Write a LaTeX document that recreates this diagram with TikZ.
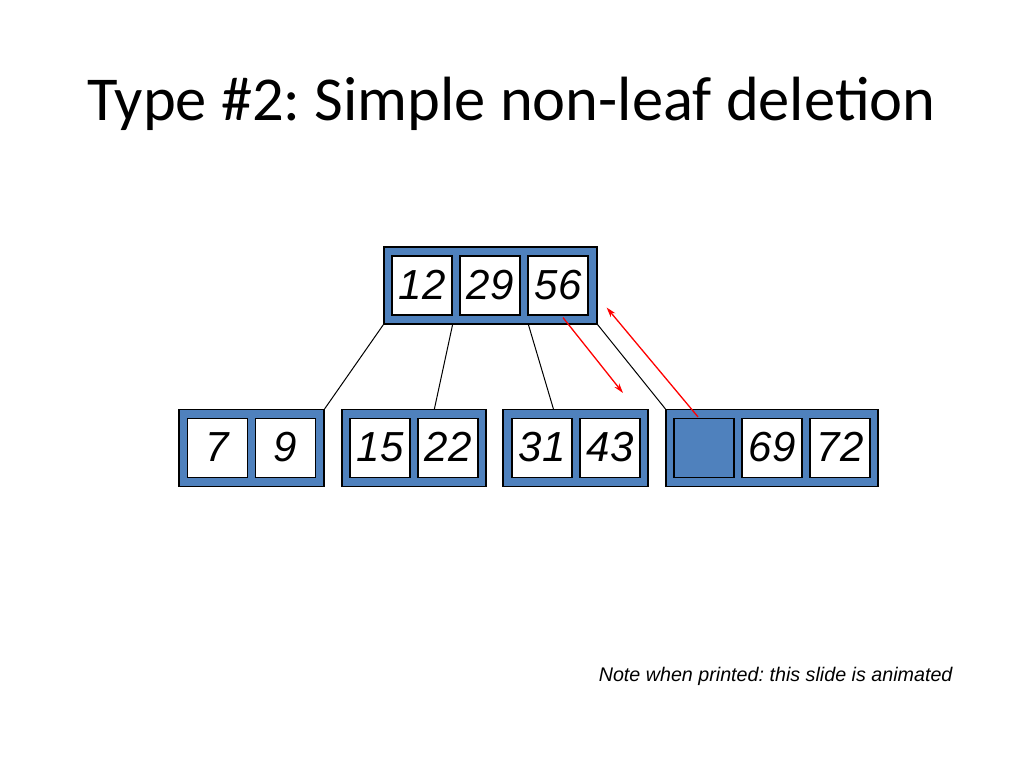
\documentclass[tikz,border=0pt]{standalone}
\usepackage{fontspec}
\setmainfont{Liberation Sans}
\newfontfamily\titlefont{Carlito}
\usepackage{xcolor}
\usetikzlibrary{calc,arrows.meta}
\definecolor{nodeblue}{HTML}{4F81BD}
\frenchspacing

\tikzset{
  outerbox/.style={draw=black, fill=nodeblue, line width=1.2pt, minimum height=77pt, inner sep=0pt},
  keybox/.style={draw=black, fill=white, line width=1.2pt, minimum width=60pt, minimum height=59pt,
    inner sep=0pt, text height=27pt, text depth=0pt, font=\fontsize{42}{42}\selectfont\itshape},
  emptybox/.style={keybox, fill=nodeblue},
  link/.style={draw=black, line width=1pt},
  move/.style={draw=red, line width=1.3pt, -{Stealth[length=10pt,width=6pt]}}
}

\begin{document}
\begin{tikzpicture}[x=1pt,y=-1pt]
\useasboundingbox[fill=white] (0,0) rectangle (1024,768);

\node[font=\titlefont\fontsize{62.5}{62.5}\selectfont, anchor=base] (title) at (511.5,120) {Type \#2: Simple non-leaf deletion};

% root
\node[outerbox, minimum width=213pt] (root) at (490.5,285.5) {};
\foreach \v/\x in {12/422,29/490,56/558}{
	\node[keybox] (k\v) at (\x,285.5) {\v};
}

% leaves
\node[outerbox, minimum width=145pt] (leafA) at (251.5,448) {};
\node[outerbox, minimum width=144pt] (leafB) at (414,448) {};
\node[outerbox, minimum width=145pt] (leafC) at (575.5,448) {};
\node[outerbox, minimum width=212pt] (leafD) at (772,448) {};

\foreach \v/\x in {7/217.5,9/285.5,15/380,22/448,31/542,43/610,69/772,72/840}{
	\node[keybox] (k\v) at (\x,448) {\v};
}
\node[emptybox] (hole) at (704,448) {};

% child pointers
\draw[link] (root.south west) -- (leafA.north east);
\draw[link] (k12.south east |- root.south) -- ($(leafB.north west)+(93,0)$);
\draw[link] ($(k56.south west |- root.south)+(1,0)$) -- ($(leafC.north west)+(51,0)$);
\draw[link] (root.south east) -- (leafD.north west);

% animation arrows
\coordinate (down) at (623,393);
\draw[move] ($(k56.south)+(5,2)$) -- (down);
\draw[move] ($(hole.north)+(-6,-1)$) -- ($(root.east)+(9,22)$);

\node[font=\fontsize{19.7}{19.7}\selectfont\itshape, anchor=base east] (note) at (956,681) {Note when printed: this slide is animated};

\end{tikzpicture}
\end{document}
